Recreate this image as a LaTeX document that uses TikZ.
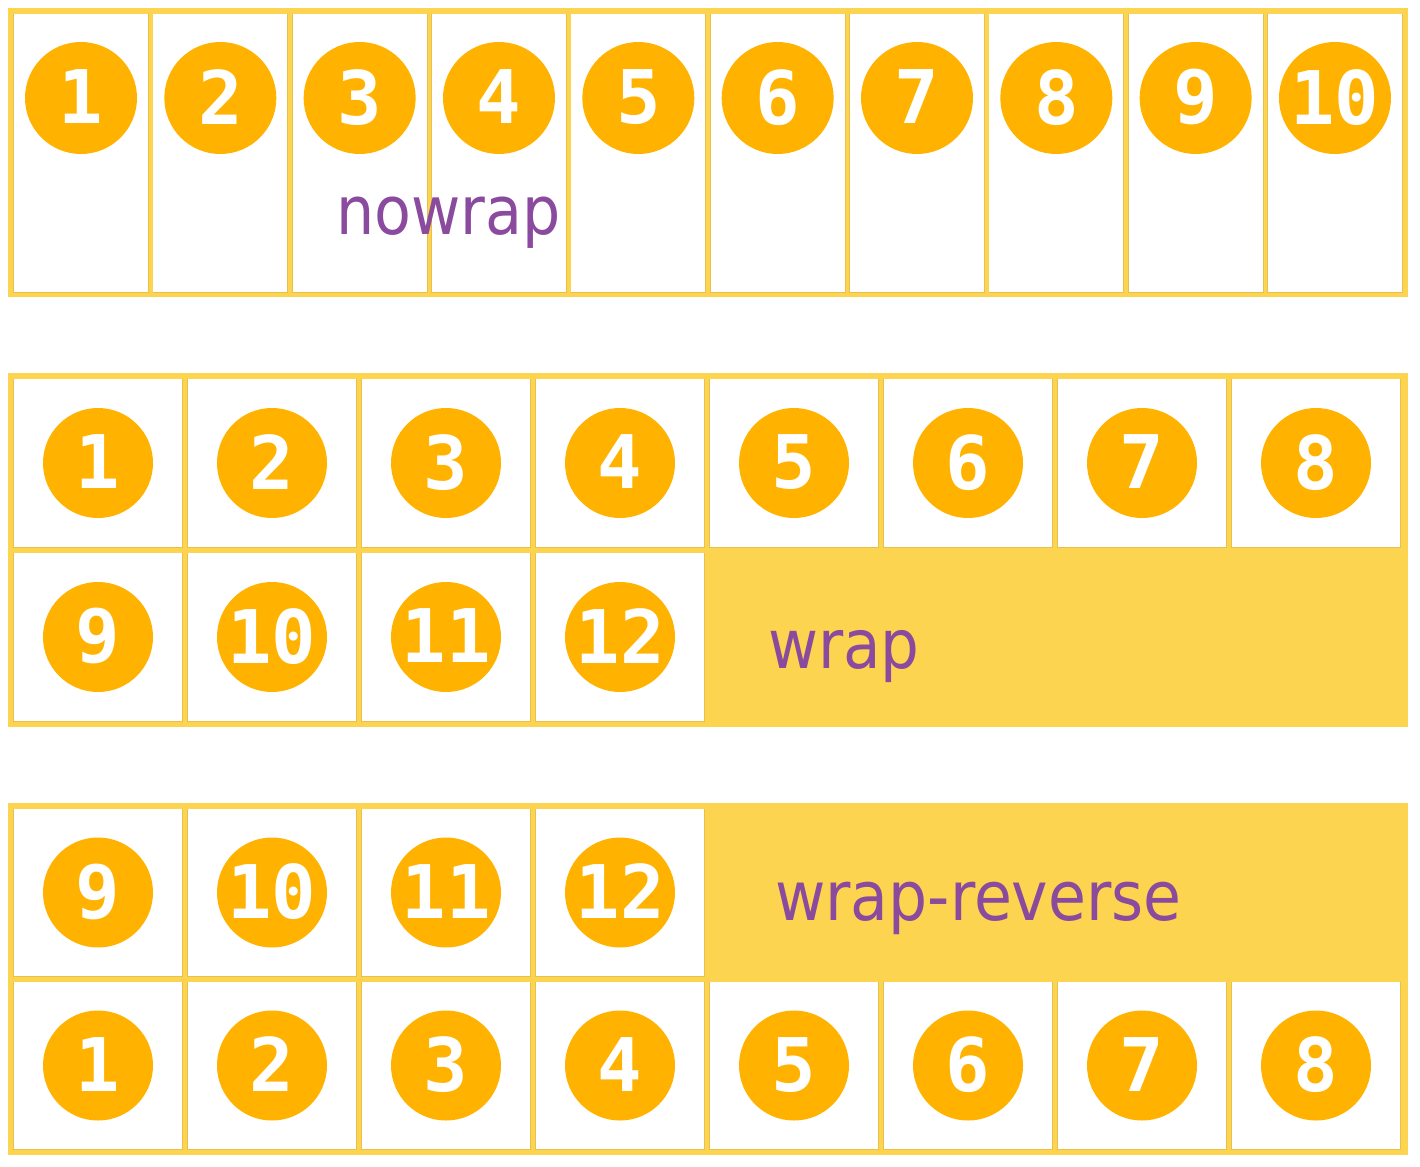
\documentclass[tikz,border=0pt]{standalone}
\usepackage{fontspec}
\newfontfamily\labfont{DejaVu Sans Condensed}
\newfontfamily\numfont{DejaVu Sans Mono}
\definecolor{frameY}{HTML}{FDD44F}
\definecolor{edgeY}{HTML}{E8C04C}
\definecolor{ballO}{HTML}{FFB300}
\definecolor{labP}{HTML}{8A4A9E}
\newcommand{\ballnum}[1]{\raisebox{2.5pt}{#1}}
\begin{document}
\begin{tikzpicture}[x=1pt,y=-1pt,
  ball/.style={circle, fill=ballO, minimum size=110pt, inner sep=0pt, text=white,
    font=\numfont\bfseries\fontsize{74}{74}\selectfont},
  bigball/.style={ball, minimum size=112pt},
  lab/.style={anchor=base west, inner sep=0pt, text=labP,
    font=\labfont\fontsize{68}{68}\selectfont}]
\useasboundingbox (0,0) rectangle (1420,1166);
\fill[white] (0,0) rectangle (1420,1166);
% ---------- nowrap ----------
\fill[frameY] (8,8) rectangle (1408,297);
\foreach \i in {0,...,9} {
  \pgfmathsetmacro\xa{14+\i*139.33}
  \fill[edgeY] (\xa-0.6,13.6) rectangle (\xa+134.9,293);
  \fill[white] (\xa,14) rectangle (\xa+134,292);
}
\foreach \i in {1,...,10}
  \node[bigball] (a\i) at ({81+(\i-1)*139.33},98) {\ballnum{\i}};
\node[lab, font=\labfont\fontsize{67}{67}\selectfont] (lnowrap) at (336,235) {nowrap};
% ---------- wrap ----------
\fill[frameY] (8,373) rectangle (1408,727);
\foreach \i in {0,...,7} {
  \pgfmathsetmacro\xa{14+\i*174}
  \fill[edgeY] (\xa-0.6,378.6) rectangle (\xa+168.9,548);
  \fill[white] (\xa,379) rectangle (\xa+168,547);
}
\foreach \i in {0,...,3} {
  \pgfmathsetmacro\xa{14+\i*174}
  \fill[edgeY] (\xa-0.6,552.6) rectangle (\xa+168.9,722);
  \fill[white] (\xa,553) rectangle (\xa+168,721);
}
\foreach \i in {1,...,8}
  \node[ball] (b\i) at ({98+(\i-1)*174},463) {\ballnum{\i}};
\foreach \i in {9,...,12}
  \node[ball] (b\i) at ({98+(\i-9)*174},637) {\ballnum{\i}};
\node[lab] (lwrap) at (768,668) {wrap};
% ---------- wrap-reverse ----------
\fill[frameY] (8,803) rectangle (1408,1155);
\foreach \i in {0,...,3} {
  \pgfmathsetmacro\xa{14+\i*174}
  \fill[edgeY] (\xa-0.6,808.6) rectangle (\xa+168.9,977);
  \fill[white] (\xa,809) rectangle (\xa+168,976);
}
\foreach \i in {0,...,7} {
  \pgfmathsetmacro\xa{14+\i*174}
  \fill[edgeY] (\xa-0.6,981.6) rectangle (\xa+168.9,1150);
  \fill[white] (\xa,982) rectangle (\xa+168,1149);
}
\foreach \i in {9,...,12}
  \node[ball] (c\i) at ({98+(\i-9)*174},892.5) {\ballnum{\i}};
\foreach \i in {1,...,8}
  \node[ball] (c\i) at ({98+(\i-1)*174},1065.5) {\ballnum{\i}};
\node[lab, font=\labfont\fontsize{68.5}{68.5}\selectfont] (lrev) at (775,920) {wrap-reverse};
\end{tikzpicture}
\end{document}
